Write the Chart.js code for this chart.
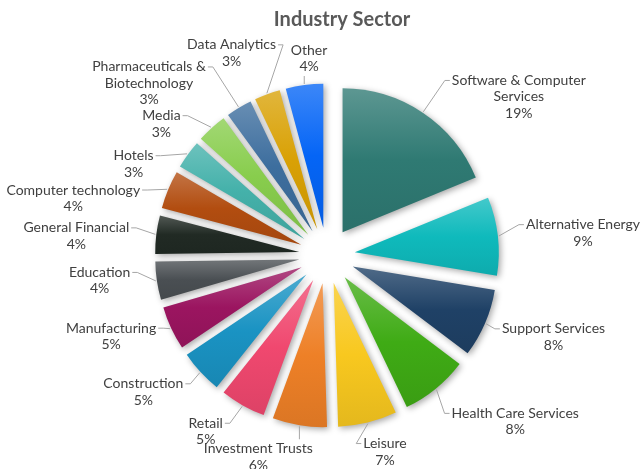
<!DOCTYPE html>
<html>
<head>
<meta charset="utf-8">
<title>Industry Sector</title>
<script src="https://cdn.jsdelivr.net/npm/chart.js@4.4.1/dist/chart.umd.min.js"></script>
<style>
  html, body { margin: 0; padding: 0; background: #ffffff; }
  #wrap { width: 640px; height: 469px; }
</style>
</head>
<body>
<div id="wrap"><canvas id="sector-chart" width="640" height="469"></canvas></div>
<script>
// Datos del gráfico
const chartTitle = 'Industry Sector';
const categories = [
    ['Software & Computer', 'Services'],
    'Alternative Energy',
    'Support Services',
    'Health Care Services',
    'Leisure',
    'Investment Trusts',
    'Retail',
    'Construction',
    'Manufacturing',
    'Education',
    'General Financial',
    'Computer technology',
    'Hotels',
    'Media',
    ['Pharmaceuticals &', 'Biotechnology'],
    'Data Analytics',
    'Other'
];
const shares = [18.8, 8.8, 7.7, 7.6, 6.6, 6.1, 5.1, 4.9, 4.9, 4.3, 4.3, 4.3, 3.2, 3.4, 2.9, 2.9, 4.2];

// Colores de las porciones
const sliceColors = [
    '#2f7a73', '#0fbabc', '#1f4166', '#3fab15', '#f8c81f', '#ee8027',
    '#f0486f', '#1a93c3', '#9b1560', '#4a4f53', '#212a24', '#b24d10',
    '#44b1aa', '#88cd4d', '#3d6e9e', '#d9a105', '#0565f6'
];

// Ajustes finos de las etiquetas (dx, dy en px)
const labelNudge = [
    [56, 44], [13, 5], [6, -13], [37, -19], [9, -5], [-35, -7],
    [-19, -6], [-17, -17], [-4, -18], [-11, -7], [-12, 10], [-19, 40],
    [-22, 33], [-24, 25], [-57, 31], [-20, 1], [9, 6]
];

const LINE_H = 16.5;
const LABEL_GAP = 14;
const EXPLODE = 28;

// Mezclar un color con blanco (k>0) o negro (k<0)
function shade(hex, k) {
    const n = parseInt(hex.slice(1), 16);
    const c = [(n >> 16) & 255, (n >> 8) & 255, n & 255].map(v => {
        const target = k > 0 ? 255 : 0;
        return Math.round(v + (target - v) * Math.abs(k));
    });
    return 'rgb(' + c.join(',') + ')';
}

// Separar las porciones y darles degradado
const explodePlugin = {
    id: 'explode',
    afterDatasetUpdate(chart, args) {
        const ctx = chart.ctx;
        args.meta.data.forEach((arc, i) => {
            const mid = (arc.startAngle + arc.endAngle) / 2;
            arc.x += Math.cos(mid) * EXPLODE;
            arc.y += Math.sin(mid) * EXPLODE;

            // limites verticales de la porcion
            let minY = arc.y, maxY = arc.y;
            for (let s = 0; s <= 24; s++) {
                const a = arc.startAngle + (arc.endAngle - arc.startAngle) * s / 24;
                const y = arc.y + Math.sin(a) * arc.outerRadius;
                minY = Math.min(minY, y);
                maxY = Math.max(maxY, y);
            }
            const base = sliceColors[i];
            const grad = ctx.createLinearGradient(0, minY, 0, maxY);
            grad.addColorStop(0, shade(base, 0.22));
            grad.addColorStop(0.5, base);
            grad.addColorStop(1, shade(base, -0.08));
            arc.options = Object.assign({}, arc.options, { backgroundColor: grad });
        });
    },
    beforeDatasetDraw(chart) {
        const ctx = chart.ctx;
        ctx.save();
        ctx.shadowColor = 'rgba(0,0,0,0.35)';
        ctx.shadowBlur = 6;
        ctx.shadowOffsetX = 2;
        ctx.shadowOffsetY = 2;
    },
    afterDatasetDraw(chart) {
        chart.ctx.restore();
    }
};

// Etiquetas exteriores con lineas guia
const sliceLabels = {
    id: 'sliceLabels',
    afterDraw(chart) {
        const ctx = chart.ctx;
        const meta = chart.getDatasetMeta(0);
        const area = chart.chartArea;
        const cx = (area.left + area.right) / 2;
        const cy = (area.top + area.bottom) / 2;
        const total = shares.reduce((a, b) => a + b, 0);

        ctx.save();
        // titulo
        ctx.font = 'bold 20px Lato';
        ctx.fillStyle = '#595959';
        ctx.textAlign = 'center';
        ctx.textBaseline = 'alphabetic';
        ctx.fillText(chartTitle, 342, 26);

        ctx.font = '14px Lato';
        ctx.fillStyle = '#404040';
        ctx.strokeStyle = '#a6a6a6';
        ctx.lineWidth = 1;
        ctx.textBaseline = 'middle';

        meta.data.forEach((arc, i) => {
            const mid = (arc.startAngle + arc.endAngle) / 2;
            const dx = Math.cos(mid), dy = Math.sin(mid);
            const lines = [].concat(categories[i], Math.round(shares[i] / total * 100) + '%');
            const w = Math.max(...lines.map(l => ctx.measureText(l).width));
            const h = lines.length * LINE_H;
            const rEdge = arc.outerRadius + EXPLODE;
            const reach = rEdge + LABEL_GAP + Math.abs(dx) * w / 2 + Math.abs(dy) * h / 2;
            const nudge = labelNudge[i] || [0, 0];
            const bx = cx + dx * reach + nudge[0];
            const by = cy + dy * reach + nudge[1];
            const top = by - h / 2;

            // linea guia
            const p0x = cx + dx * (rEdge + 1), p0y = cy + dy * (rEdge + 1);
            ctx.beginPath();
            ctx.moveTo(p0x, p0y);
            if (Math.abs(dy) > 0.985) {
                const ey = dy > 0 ? top - 1 : top + h + 1;
                ctx.lineTo(p0x, ey);
            } else {
                const side = dx > 0 ? 1 : -1;
                const edge = bx - side * w / 2;
                const ly = top + LINE_H / 2;
                ctx.lineTo(edge - side * 7, ly);
                ctx.lineTo(edge - side * 2, ly);
            }
            ctx.stroke();

            lines.forEach((l, k) => ctx.fillText(l, bx, top + LINE_H * (k + 0.5)));
        });
        ctx.restore();
    }
};

const ctx = document.getElementById('sector-chart');
new Chart(ctx, {
    type: 'pie',
    data: {
        labels: categories,
        datasets: [{
            data: shares,
            backgroundColor: sliceColors,
            borderWidth: 0,
            radius: 144
        }]
    },
    options: {
        responsive: false,
        animation: false,
        events: [],
        layout: {
            padding: { left: 14, right: 0, top: 42, bottom: 0 }
        },
        plugins: {
            legend: { display: false },
            tooltip: { enabled: false },
            title: { display: false }
        }
    },
    plugins: [explodePlugin, sliceLabels]
});
</script>
</body>
</html>
